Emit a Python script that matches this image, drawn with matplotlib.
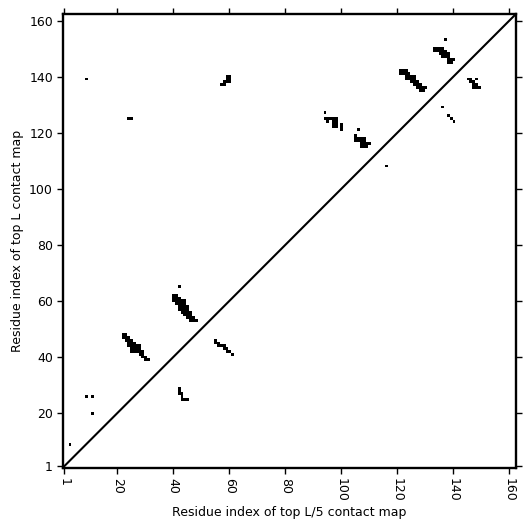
import numpy as np
import matplotlib
matplotlib.use("Agg")
import matplotlib.pyplot as plt

L = 162  # sequence length

# Contacts given as runs: (row residue j, first residue i, last residue i)
# Upper-left triangle: top L contact map
top_L_runs = [
    (9, 3, 3),
    (26, 9, 9), (26, 11, 11),
    (20, 11, 11),
    (139, 9, 9),
    (125, 24, 25),
    # cluster 22-31 x 39-48
    (48, 22, 23), (47, 22, 24), (46, 23, 25), (45, 24, 26), (44, 24, 28),
    (43, 25, 28), (42, 25, 29), (41, 28, 29), (40, 29, 30), (39, 30, 31),
    # cluster 40-48 x 53-65
    (65, 42, 42),
    (62, 40, 41), (61, 40, 42), (60, 40, 44), (59, 41, 44), (58, 42, 45),
    (57, 42, 45), (56, 43, 46), (55, 44, 46), (54, 45, 47), (53, 46, 48),
    # cluster 57-60 x 137-140
    (140, 59, 60), (139, 59, 60), (138, 58, 60), (137, 57, 58),
    # cluster 94-100 x 121-127
    (127, 94, 94), (125, 94, 98), (124, 95, 95), (124, 97, 98),
    (123, 97, 98), (123, 100, 100), (122, 97, 98), (122, 100, 100), (121, 100, 100),
    # cluster 105-110 x 115-121
    (121, 106, 106), (119, 105, 105), (118, 105, 108), (117, 105, 108),
    (116, 107, 110), (115, 107, 109),
    # cluster 121-130 x 135-142
    (142, 121, 123), (141, 121, 124), (140, 123, 126), (139, 123, 126),
    (138, 125, 127), (137, 126, 128), (136, 127, 130), (135, 128, 129),
    # cluster 133-140 x 145-153
    (153, 137, 137), (150, 133, 136), (149, 133, 137), (148, 135, 138),
    (147, 136, 138), (146, 138, 140), (145, 138, 139),
]

# Lower-right triangle: top L/5 contact map
top_L5_runs = [
    (29, 42, 42), (28, 42, 42), (27, 42, 43), (26, 43, 43), (25, 43, 45),
    (46, 55, 55), (45, 55, 56), (44, 56, 58), (43, 58, 59), (42, 59, 60), (41, 61, 61),
    (108, 116, 116),
    (129, 136, 136), (126, 138, 138), (125, 139, 139), (124, 140, 140),
    (139, 145, 146), (139, 148, 148), (138, 146, 147), (137, 147, 148), (136, 147, 149),
]

tick_values = [1, 20, 40, 60, 80, 100, 120, 140, 160]

M = np.zeros((L, L))
for runs in (top_L_runs, top_L5_runs):
    for j, i0, i1 in runs:
        M[j - 1, i0 - 1:i1] = 1

fig = plt.figure(figsize=(5.31, 5.31), dpi=100)
ax = fig.add_axes([0.118, 0.119, 0.854, 0.855])
ax.imshow(M, cmap="binary", origin="lower", interpolation="nearest",
          extent=(0.5, L + 0.5, 0.5, L + 0.5), vmin=0, vmax=1, aspect="auto")
ax.plot([0.5, L + 0.5], [0.5, L + 0.5], color="black", lw=1.5)
ax.set_xlim(0.5, L + 0.5)
ax.set_ylim(0.5, L + 0.5)
ax.set_xticks(tick_values)
ax.set_yticks(tick_values)
ax.set_xticklabels([str(v) for v in tick_values], rotation=270, fontsize=9)
ax.set_yticklabels([str(v) for v in tick_values], fontsize=9)
ax.tick_params(top=True, right=True, direction="out", length=4, width=1, pad=3)
for s in ax.spines.values():
    s.set_linewidth(1.7)
ax.set_xlabel("Residue index of top L/5 contact map", fontsize=9, labelpad=3)
ax.set_ylabel("Residue index of top L contact map", fontsize=9, labelpad=4)
fig.savefig("out.png", dpi=100)
